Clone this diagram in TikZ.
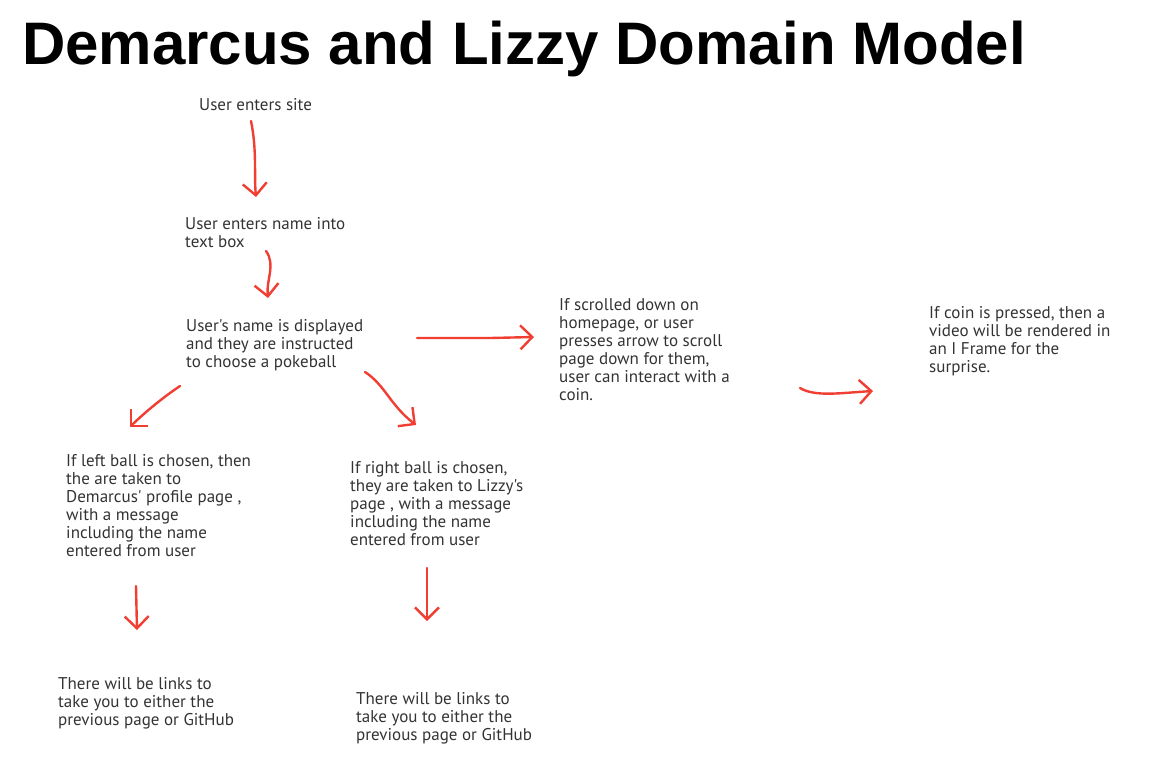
\documentclass[tikz,border=0pt]{standalone}
\usepackage{fontspec}
\newfontfamily\notefont{PT Sans}
\newfontfamily\titlefont{Liberation Sans}
\usetikzlibrary{arrows.meta}
\definecolor{inkred}{RGB}{240,62,50}
\definecolor{notegray}{RGB}{51,51,51}
\begin{document}
\begin{tikzpicture}[x=1pt, y=-1pt,
  note/.style={anchor=north west, align=left, inner sep=0pt, text=notegray,
    font=\notefont\fontsize{17}{18}\selectfont},
  pen/.style={draw=inkred, line width=2.4pt, line cap=round, line join=round,
    -{Straight Barb[length=12pt, width=24pt, line width=2.4pt]}}]
\useasboundingbox (0,0) rectangle (1156,777);
\node[anchor=base west, inner sep=0pt, font=\titlefont\bfseries\fontsize{60}{64}\selectfont] (title) at (22,64) {Demarcus and Lizzy Domain Model};
\node[note] (s) at (199,98) {User enters site};
\node[note] (n) at (185,217) {User enters name into\\text box};
\node[note] (c) at (186,319) {User's name is displayed\\and they are instructed\\to choose a pokeball};
\node[note] (sc) at (559,298) {If scrolled down on\\homepage, or user\\presses arrow to scroll\\page down for them,\\user can interact with a\\coin.};
\node[note] (coin) at (929,306) {If coin is pressed, then a\\video will be rendered in\\an I Frame for the\\surprise.};
\node[note] (l) at (66,454) {If left ball is chosen, then\\the are taken to\\Demarcus' profile page ,\\with a message\\including the name\\entered from user};
\node[note] (r) at (350,461) {If right ball is chosen,\\they are taken to Lizzy's\\page , with a message\\including the name\\entered from user};
\node[note] (ll) at (58,677) {There will be links to\\take you to either the\\previous page or GitHub};
\node[note] (rl) at (356,692) {There will be links to\\take you to either the\\previous page or GitHub};
% hand drawn arrows
\coordinate (s1) at (251,121);  \coordinate (e1) at (256,197);
\coordinate (s2) at (266,251);  \coordinate (e2) at (268,298);
\coordinate (s3) at (417,338);  \coordinate (e3) at (534,337);
\coordinate (s4) at (180,386);  \coordinate (e4) at (130,427);
\coordinate (s5) at (365,372);  \coordinate (e5) at (416,425);
\coordinate (s6) at (800,388);  \coordinate (e6) at (873,391);
\coordinate (s7) at (136,586);  \coordinate (e7) at (137,630);
\coordinate (s8) at (427,568);  \coordinate (e8) at (427,621);
\draw[pen] (s1) .. controls (257,150) and (254,175) .. (e1);
\draw[pen] (s2) .. controls (276,265) and (266,280) .. (e2);
\draw[pen] (s3) -- (490,338) -- (e3);
\draw[pen] (s4) .. controls (165,396) and (145,412) .. (e4);
\draw[pen] (s5) .. controls (385,385) and (390,405) .. (e5);
\draw[pen] (s6) .. controls (815,397) and (840,393) .. (e6);
\draw[pen] (s7) -- (e7);
\draw[pen] (s8) -- (e8);
\end{tikzpicture}
\end{document}
